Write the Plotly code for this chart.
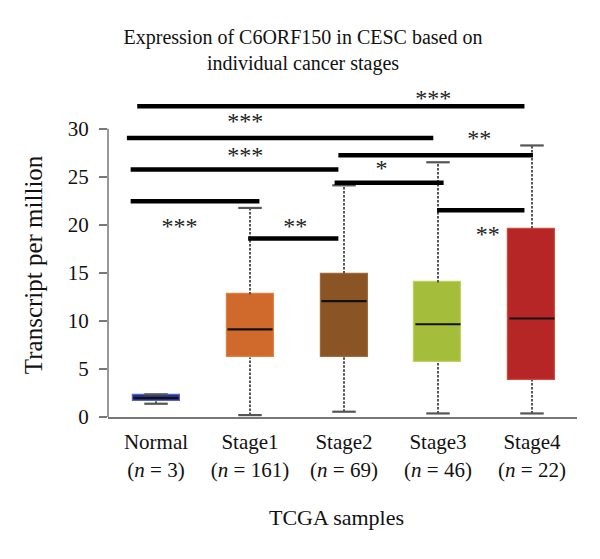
import plotly.graph_objects as go

# ---- data ----
categories = ["Normal", "Stage1", "Stage2", "Stage3", "Stage4"]
n_counts = [3, 161, 69, 46, 22]
lower = [1.38, 0.2, 0.55, 0.37, 0.37]
q1 = [1.66, 6.2, 6.25, 5.7, 3.85]
median = [1.97, 9.12, 12.05, 9.65, 10.25]
q3 = [2.26, 12.75, 14.92, 14.0, 19.6]
upper = [2.36, 21.75, 24.1, 26.5, 28.25]
fill_colors = ["#27308a", "#d06a2c", "#8a5424", "#a4bd3a", "#b72626"]
edge_colors = ["#5563c8", "#e0803f", "#a06a3a", "#bcd25a", "#cf4a3a"]

# significance comparisons
sig_x0 = [-0.20, -0.31, -0.27, -0.27, 0.98, 1.94, 1.90, 2.99]
sig_x1 = [3.92, 2.95, 1.94, 1.10, 1.94, 4.01, 3.06, 3.92]
sig_y = [32.32, 29.02, 25.74, 22.44, 18.56, 27.22, 24.38, 21.5]
sig_labels = ["***", "***", "***", "***", "**", "**", "*", "**"]
sig_lx = [2.95, 0.95, 0.95, 0.25, 1.48, 3.44, 2.40, 3.53]
sig_ly = [33.3, 30.97, 27.4, 20.05, 20.05, 29.2, 26.0, 19.14]

yticks = [0, 5, 10, 15, 20, 25, 30]

FONT = "Liberation Serif"
pos = list(range(len(categories)))
box_w = 0.5
cap_w = 0.25
label_drop = 0.35  # asterisk glyphs sit high in the em box

fig = go.Figure()

# whiskers (dashed)
wx, wy = [], []
for i in pos:
    wx += [i, i, None, i, i, None]
    wy += [lower[i], q1[i], None, q3[i], upper[i], None]
fig.add_trace(go.Scatter(x=wx, y=wy, mode="lines",
                         line=dict(color="#555555", width=2, dash="2.5px,1.5px"),
                         hoverinfo="skip", showlegend=False))

# caps
cx, cy = [], []
for i in pos:
    cx += [i - cap_w / 2, i + cap_w / 2, None, i - cap_w / 2, i + cap_w / 2, None]
    cy += [lower[i], lower[i], None, upper[i], upper[i], None]
fig.add_trace(go.Scatter(x=cx, y=cy, mode="lines",
                         line=dict(color="#555555", width=2.2),
                         hoverinfo="skip", showlegend=False))

# boxes
fig.add_trace(go.Bar(x=pos, base=q1, y=[q3[i] - q1[i] for i in pos],
                     width=box_w,
                     marker=dict(color=fill_colors,
                                 line=dict(color=edge_colors, width=1.2)),
                     hoverinfo="skip", showlegend=False))

# medians
mx, my = [], []
for i in pos:
    mx += [i - box_w / 2 + 0.01, i + box_w / 2 - 0.01, None]
    my += [median[i], median[i], None]
fig.add_trace(go.Scatter(x=mx, y=my, mode="lines",
                         line=dict(color="#111111", width=2.2),
                         hoverinfo="skip", showlegend=False))

# significance bars
sx, sy = [], []
for k in range(len(sig_y)):
    sx += [sig_x0[k], sig_x1[k], None]
    sy += [sig_y[k], sig_y[k], None]
fig.add_trace(go.Scatter(x=sx, y=sy, mode="lines",
                         line=dict(color="#000000", width=4.5),
                         hoverinfo="skip", showlegend=False))

# significance labels
fig.add_trace(go.Scatter(x=sig_lx, y=[v - label_drop for v in sig_ly],
                         mode="text", text=sig_labels,
                         textposition="middle center",
                         textfont=dict(family=FONT, size=24, color="#222222"),
                         cliponaxis=False, hoverinfo="skip", showlegend=False))

ticktext = [f"{c}<br>(<i>n</i> = {n})" for c, n in zip(categories, n_counts)]

fig.update_layout(
    width=600, height=559,
    margin=dict(l=108, r=23, t=90, b=142),
    paper_bgcolor="white", plot_bgcolor="white",
    bargap=0,
    title=dict(text="Expression of C6ORF150 in CESC based on<br>individual cancer stages",
               x=303 / 600, xanchor="center", xref="container",
               y=1 - 44 / 559, yanchor="top", yref="container",
               font=dict(family=FONT, size=20, color="#111111")),
    xaxis=dict(range=[-0.511, 4.479], tickvals=pos, ticktext=ticktext,
               showline=True, linecolor="#777777", linewidth=2,
               ticks="", showgrid=False, zeroline=False,
               tickfont=dict(family=FONT, size=21, color="#111111"),
               ticklabelstandoff=5),
    yaxis=dict(range=[0, 34.02], tickvals=yticks,
               showline=False, ticks="outside", ticklen=8,
               tickcolor="#777777", tickwidth=1.5,
               showgrid=False, zeroline=False,
               tickfont=dict(family=FONT, size=21, color="#111111"),
               ticklabelstandoff=6),
    shapes=[dict(type="line", xref="paper", yref="y", x0=0, x1=0, y0=0, y1=30,
                 line=dict(color="#777777", width=1.5))],
)

fig.add_annotation(text="Transcript per million", xref="paper", yref="paper",
                   x=(33 - 108) / 469, y=(416.7 - 265) / 326.7,
                   textangle=-90, showarrow=False,
                   xanchor="center", yanchor="middle",
                   font=dict(family=FONT, size=25, color="#111111"))
fig.add_annotation(text="TCGA samples", xref="paper", yref="paper",
                   x=(336 - 108) / 469, y=(416.7 - 517) / 326.7,
                   showarrow=False, xanchor="center", yanchor="middle",
                   font=dict(family=FONT, size=22, color="#111111"))

fig.write_html("out.html")
